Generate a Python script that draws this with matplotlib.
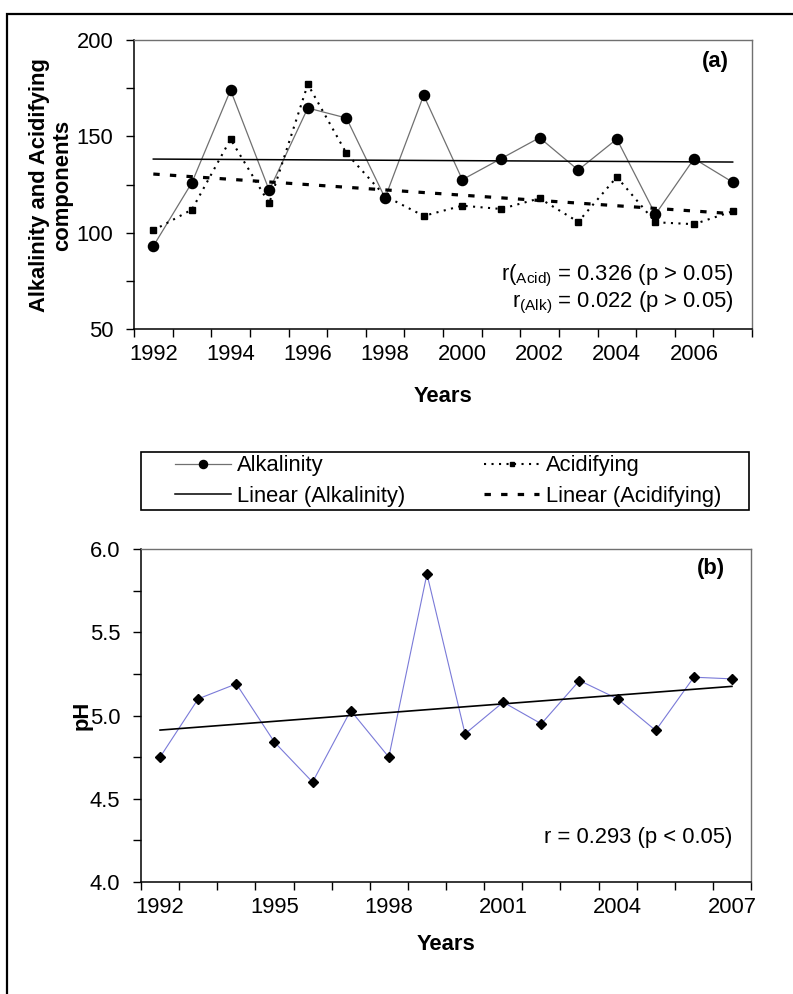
import numpy as np
import matplotlib
matplotlib.use('Agg')
from matplotlib import pyplot as plt
from matplotlib.patches import Rectangle
from matplotlib.ticker import MultipleLocator, FixedLocator

plt.rcParams['font.family'] = ['Liberation Sans', 'DejaVu Sans']
plt.rcParams['mathtext.fontset'] = 'custom'
plt.rcParams['mathtext.rm'] = 'Liberation Sans'
plt.rcParams['mathtext.it'] = 'Liberation Sans:italic'
plt.rcParams['mathtext.bf'] = 'Liberation Sans:bold'

FS = 15.8

# data
years = list(range(1992, 2008))
alkalinity = [93, 126, 174, 122, 164.7, 159.5, 118, 171.3,
              127.5, 138.4, 149.3, 132.5, 148.6, 109.5, 138.4, 126.2]
acidifying = [101.2, 112, 148.5, 115.2, 177, 141.2, 119, 108.7,
              114, 112.3, 117.8, 105.6, 128.9, 105.4, 104.4, 111.1]
ph = [4.75, 5.10, 5.19, 4.84, 4.60, 5.03, 4.75, 5.85,
      4.89, 5.08, 4.95, 5.21, 5.10, 4.91, 5.23, 5.22]
top_labels = [1992, 1994, 1996, 1998, 2000, 2002, 2004, 2006]
bottom_labels = [1992, 1995, 1998, 2001, 2004, 2007]


def trend(x, y):
    coef = np.polyfit(x, y, 1)
    return np.polyval(coef, x)


def style_axes(ax, label_years, ymajor, yminor):
    ax.set_xlim(1991.5, 2007.5)
    ax.xaxis.set_major_locator(FixedLocator(label_years))
    ax.xaxis.set_minor_locator(FixedLocator(np.arange(1991.5, 2008, 1.0)))
    ax.tick_params(axis='x', which='major', length=0, pad=11, labelsize=FS)
    ax.tick_params(axis='x', which='minor', length=6, width=1, direction='out')
    ax.yaxis.set_major_locator(MultipleLocator(ymajor))
    ax.yaxis.set_minor_locator(MultipleLocator(yminor))
    ax.tick_params(axis='y', which='major', length=6, width=1, pad=9, labelsize=FS)
    ax.tick_params(axis='y', which='minor', length=6, width=1)
    for s in ('left', 'bottom'):
        ax.spines[s].set_linewidth(1.1)
        ax.spines[s].set_color('black')
    for s in ('top', 'right'):
        ax.spines[s].set_linewidth(1.0)
        ax.spines[s].set_color('#707070')


fig = plt.figure(figsize=(7.93, 9.94), dpi=100)

# panel (a)
ax1 = fig.add_axes([134 / 793, 1 - 329 / 994, 618 / 793, 289 / 994])
l_alk, = ax1.plot(years, alkalinity, color='#707070', lw=0.9, marker='o',
                  markersize=7.3, markerfacecolor='black', markeredgecolor='black',
                  label='Alkalinity')
l_acid, = ax1.plot(years, acidifying, color='black', lw=1.5, linestyle=(0, (1, 2.6)),
                   marker='s', markersize=3.8, label='Acidifying')
t_alk, = ax1.plot(years, trend(years, alkalinity), color='black', lw=1.1,
                  label='Linear (Alkalinity)')
t_acid, = ax1.plot(years, trend(years, acidifying), color='black', lw=2.3,
                   linestyle=(0, (2, 3.2)), label='Linear (Acidifying)')
ax1.set_ylim(50, 200)
style_axes(ax1, top_labels, 50, 25)
ax1.text(0.963, 0.925, '(a)', transform=ax1.transAxes, ha='right', va='center',
         fontsize=FS, fontweight='bold')
ax1.text(0.97, 0.185, r'r($_{\mathrm{Acid)}}$ = 0.326 (p > 0.05)', transform=ax1.transAxes,
         ha='right', va='center', fontsize=FS)
ax1.text(0.97, 0.09, r'r$_{\mathrm{(Alk)}}$ = 0.022 (p > 0.05)', transform=ax1.transAxes,
         ha='right', va='center', fontsize=FS)
fig.text(51 / 793, 1 - 185 / 994, 'Alkalinity and Acidifying\ncomponents', rotation=90,
         ha='center', va='center', fontsize=FS, fontweight='bold', linespacing=1.15)
fig.text(443 / 793, 1 - 396 / 994, 'Years', ha='center', va='center',
         fontsize=FS, fontweight='bold')

# legend between the panels
fig.add_artist(Rectangle((141 / 793, 1 - 510 / 994), 608 / 793, 58 / 994,
                         transform=fig.transFigure, fill=False, edgecolor='black', lw=1.2))
leg = fig.legend([l_alk, t_alk, l_acid, t_acid],
                 ['Alkalinity', 'Linear (Alkalinity)', 'Acidifying', 'Linear (Acidifying)'],
                 ncol=2, loc='center', mode='expand', frameon=False, numpoints=1,
                 bbox_to_anchor=(175 / 793, 1 - 509 / 994, 546 / 793, 56 / 994),
                 borderaxespad=0, borderpad=0, fontsize=FS, handlelength=2.55,
                 handletextpad=0.28, labelspacing=0.42, markerscale=0.8)

# panel (b)
ax2 = fig.add_axes([141 / 793, 1 - 882 / 994, 610 / 793, 333 / 994])
ax2.plot(years, ph, color='#7a7ad8', lw=0.8, marker='D', markersize=5,
         markerfacecolor='black', markeredgecolor='black')
ax2.plot(years, trend(years, ph), color='black', lw=1.2)
ax2.set_ylim(4.0, 6.0)
style_axes(ax2, bottom_labels, 0.5, 0.25)
ax2.yaxis.set_major_formatter(plt.FormatStrFormatter('%.1f'))
ax2.text(0.958, 0.94, '(b)', transform=ax2.transAxes, ha='right', va='center',
         fontsize=FS, fontweight='bold')
ax2.text(0.97, 0.133, 'r = 0.293 (p < 0.05)', transform=ax2.transAxes,
         ha='right', va='center', fontsize=FS)
ax2.set_ylabel('pH', fontsize=FS, fontweight='bold')
ax2.yaxis.set_label_coords(-0.08, 0.5)
fig.text(446 / 793, 1 - 945 / 994, 'Years', ha='center', va='center',
         fontsize=FS, fontweight='bold')

# outer frame of the figure
fig.add_artist(Rectangle((7 / 793, -0.05), 1.0, 1 - 14 / 994 + 0.05,
                         transform=fig.transFigure, fill=False, edgecolor='black', lw=1.6))

fig.savefig('out.png', dpi=100)
